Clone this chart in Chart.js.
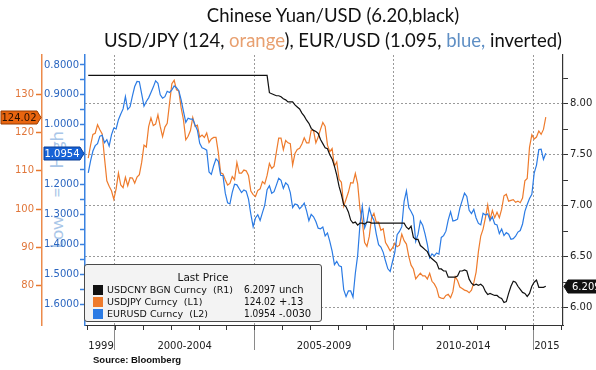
<!DOCTYPE html>
<html>
<head>
<meta charset="utf-8">
<script src="https://cdn.jsdelivr.net/npm/chart.js@4.4.1/dist/chart.umd.min.js"></script>
<style>
  html, body { margin: 0; padding: 0; background: #fff; }
  #wrap { position: relative; width: 596px; height: 370px; overflow: hidden; }
  #chart { position: absolute; left: 0; top: 0; }
  .title { position: absolute; white-space: nowrap; transform: translateX(-50%);
           font-family: Lato, "Liberation Sans", sans-serif; font-size: 18.5px; line-height: 20px; color: #111; }
  #lowhigh { position: absolute; left: 56px; top: 190px; white-space: pre;
             transform: translate(-50%, -50%) rotate(-90deg);
             font-family: Lato, sans-serif; font-size: 18px; color: #a9c6e8; word-spacing: 14px; }
  #source { position: absolute; left: 93px; top: 354px; font-family: "Liberation Sans", sans-serif;
            font-weight: bold; font-size: 9.5px; color: #111; }
  #legend { position: absolute; left: 84px; top: 264px; width: 236px; height: 56px;
            border: 1.5px solid #4a4a4a; border-radius: 3px; background: #f3f3f3;
            font-family: "DejaVu Sans", sans-serif; font-size: 9.5px; color: #111; }
  #legend .lp { position: absolute; left: 0; width: 100%; top: 6px; text-align: center; font-size: 10.5px; }
  #legend .row { position: absolute; left: 0; width: 100%; height: 12px; line-height: 12px; }
  #legend .sw { position: absolute; left: 8px; top: 1px; width: 10px; height: 10px; }
  #legend .nm { position: absolute; left: 22px; white-space: pre; }
  #legend .val { position: absolute; left: 159px; font-family: "DejaVu Sans Condensed", "DejaVu Sans", sans-serif; font-size: 10px; }
  #legend .chg { position: absolute; left: 194px; font-size: 10px; }
</style>
</head>
<body>
<div id="wrap">
  <div id="lowhigh">Low = High</div>
  <canvas id="chart" width="596" height="370"></canvas>
  <div class="title" style="left:333px; top:5px;">Chinese Yuan/USD (6.20,black)</div>
  <div class="title" style="left:333px; top:30px;">USD/JPY (124, <span style="color:#e8a070">orange</span>), EUR/USD (1.095, <span style="color:#5f8fc4">blue,</span> inverted)</div>
  <div id="legend"></div>
  <div id="source">Source: Bloomberg</div>
</div>
<script>
// monthly values, Jan 1999 .. Jun 2015
const startYear = 1999;

const usdcny = [
  8.28, 8.28, 8.28, 8.28, 8.28, 8.28, 8.28, 8.28, 8.28, 8.28, 8.28, 8.28,
  8.28, 8.28, 8.28, 8.28, 8.28, 8.28, 8.28, 8.28, 8.28, 8.28, 8.28, 8.28,
  8.28, 8.28, 8.28, 8.28, 8.28, 8.28, 8.28, 8.28, 8.28, 8.28, 8.28, 8.28,
  8.28, 8.28, 8.28, 8.28, 8.28, 8.28, 8.28, 8.28, 8.28, 8.28, 8.28, 8.28,
  8.28, 8.28, 8.28, 8.28, 8.28, 8.28, 8.28, 8.28, 8.28, 8.28, 8.28, 8.28,
  8.28, 8.28, 8.28, 8.28, 8.28, 8.28, 8.28, 8.28, 8.28, 8.28, 8.28, 8.28,
  8.28, 8.28, 8.28, 8.28, 8.28, 8.28, 8.11, 8.10, 8.09, 8.08, 8.08, 8.07,
  8.05, 8.04, 8.02, 8.02, 8.02, 7.99, 7.97, 7.95, 7.91, 7.88, 7.84, 7.81,
  7.76, 7.74, 7.73, 7.71, 7.65, 7.61, 7.57, 7.56, 7.50, 7.46, 7.39, 7.30,
  7.19, 7.11, 7.01, 6.99, 6.94, 6.86, 6.83, 6.84, 6.81, 6.83, 6.83, 6.82,
  6.84, 6.84, 6.83, 6.83, 6.83, 6.83, 6.83, 6.83, 6.83, 6.83, 6.83, 6.83,
  6.83, 6.83, 6.83, 6.83, 6.83, 6.79, 6.77, 6.80, 6.69, 6.67, 6.67, 6.61,
  6.59, 6.57, 6.55, 6.50, 6.48, 6.46, 6.44, 6.38, 6.38, 6.36, 6.36, 6.30,
  6.30, 6.30, 6.30, 6.31, 6.36, 6.36, 6.37, 6.36, 6.28, 6.24, 6.22, 6.23,
  6.22, 6.23, 6.21, 6.16, 6.13, 6.14, 6.13, 6.12, 6.12, 6.10, 6.09, 6.05,
  6.06, 6.14, 6.21, 6.26, 6.25, 6.21, 6.18, 6.15, 6.14, 6.11, 6.14, 6.21,
  6.25, 6.27, 6.20, 6.20, 6.20, 6.2097
];

const usdjpy = [
  113.3, 116.7, 119.5, 119.8, 122.0, 120.7, 119.6, 113.3, 107.4, 106.0, 104.8, 102.6,
  105.3, 109.4, 106.3, 105.6, 108.3, 106.1, 108.2, 108.1, 106.8, 108.4, 109.0, 112.2,
  116.7, 116.2, 121.5, 123.8, 121.8, 122.2, 124.6, 121.5, 118.9, 121.4, 122.4, 127.6,
  132.7, 133.6, 131.1, 130.8, 126.4, 123.3, 118.1, 119.0, 120.5, 123.9, 121.6, 121.9,
  118.8, 119.3, 118.7, 119.9, 117.4, 118.3, 118.7, 118.7, 114.8, 109.5, 109.2, 107.7,
  106.3, 106.7, 108.5, 107.7, 112.2, 109.4, 109.4, 110.2, 110.0, 108.8, 104.7, 103.8,
  103.3, 104.9, 105.3, 107.2, 106.6, 108.8, 111.9, 110.6, 111.2, 114.9, 118.5, 118.5,
  115.5, 117.9, 117.3, 117.1, 111.5, 114.5, 115.6, 115.9, 117.0, 118.6, 117.3, 117.3,
  120.6, 120.5, 117.3, 118.8, 120.8, 122.6, 121.6, 116.7, 115.0, 115.8, 111.2, 112.3,
  107.8, 107.0, 100.8, 102.6, 104.4, 106.9, 106.8, 109.3, 106.6, 100.1, 96.9, 91.3,
  90.3, 92.9, 97.8, 98.9, 96.6, 96.6, 94.5, 94.9, 91.3, 90.3, 89.1, 89.9,
  91.1, 90.2, 90.6, 93.5, 91.8, 90.9, 87.7, 85.4, 84.4, 81.8, 82.6, 83.3,
  82.6, 82.6, 81.8, 83.3, 81.2, 80.5, 79.4, 77.1, 76.8, 76.7, 77.5, 77.8,
  76.9, 78.5, 82.4, 81.4, 79.7, 79.3, 78.9, 78.7, 78.2, 78.9, 80.8, 83.6,
  89.0, 93.0, 94.8, 97.7, 101.1, 97.3, 99.7, 97.8, 99.2, 97.8, 100.0, 103.5,
  103.9, 102.1, 102.3, 102.5, 101.8, 102.1, 101.7, 102.9, 107.4, 108.0, 116.2, 119.4,
  118.3, 118.8, 120.4, 119.5, 120.8, 124.02
];

const eurusd = [
  1.161, 1.121, 1.088, 1.070, 1.063, 1.038, 1.035, 1.060, 1.050, 1.071, 1.034, 1.011,
  1.014, 0.983, 0.964, 0.947, 0.906, 0.949, 0.940, 0.904, 0.872, 0.855, 0.856, 0.897,
  0.938, 0.922, 0.910, 0.892, 0.874, 0.853, 0.861, 0.900, 0.911, 0.906, 0.888, 0.892,
  0.883, 0.870, 0.876, 0.886, 0.917, 0.955, 0.992, 0.978, 0.981, 0.981, 1.001, 1.018,
  1.062, 1.077, 1.080, 1.085, 1.158, 1.166, 1.137, 1.114, 1.122, 1.169, 1.170, 1.229,
  1.261, 1.265, 1.226, 1.199, 1.201, 1.214, 1.227, 1.218, 1.222, 1.249, 1.299, 1.341,
  1.312, 1.301, 1.320, 1.294, 1.269, 1.217, 1.204, 1.229, 1.224, 1.202, 1.179, 1.186,
  1.213, 1.194, 1.202, 1.227, 1.277, 1.265, 1.268, 1.281, 1.273, 1.262, 1.288, 1.321,
  1.300, 1.308, 1.324, 1.346, 1.348, 1.342, 1.372, 1.362, 1.390, 1.423, 1.468, 1.457,
  1.472, 1.475, 1.552, 1.575, 1.556, 1.556, 1.577, 1.497, 1.437, 1.333, 1.273, 1.345,
  1.324, 1.279, 1.305, 1.319, 1.365, 1.401, 1.409, 1.427, 1.456, 1.482, 1.491, 1.458,
  1.427, 1.368, 1.357, 1.341, 1.256, 1.221, 1.277, 1.290, 1.306, 1.390, 1.366, 1.322,
  1.336, 1.365, 1.400, 1.445, 1.432, 1.439, 1.429, 1.433, 1.377, 1.371, 1.356, 1.318,
  1.291, 1.322, 1.320, 1.316, 1.279, 1.254, 1.229, 1.240, 1.286, 1.297, 1.283, 1.312,
  1.330, 1.335, 1.296, 1.302, 1.298, 1.320, 1.308, 1.332, 1.335, 1.364, 1.349, 1.371,
  1.361, 1.366, 1.383, 1.381, 1.373, 1.359, 1.354, 1.332, 1.290, 1.267, 1.247, 1.233,
  1.162, 1.135, 1.083, 1.082, 1.116, 1.0954
];

// legend / last price box
const tickers = ['USDCNY BGN Curncy', 'USDJPY Curncy', 'EURUSD Curncy'];
const axisTags = ['(R1)', '(L1)', '(L2)'];
const lastPrice = [6.2097, 124.02, 1.0954];
const priceDigits = [4, 2, 4];
const netChange = ['unch', '+.13', '-.0030'];
const seriesColors = ['#111111', '#ee7b2c', '#2b7be4'];

// axis ticks
const periodStarts = [1999, 2000, 2005, 2010, 2015];
const periodLabels = ['1999', '2000-2004', '2005-2009', '2010-2014', '2015'];
const yearTicks = [1999, 2000, 2001, 2002, 2003, 2004, 2005, 2006, 2007, 2008, 2009, 2010, 2011, 2012, 2013, 2014, 2015, 2016];
const cnyTicks = [6.0, 6.25, 6.5, 6.75, 7.0, 7.25, 7.5, 7.75, 8.0, 8.25];
const jpyTicks = [80, 90, 100, 110, 120, 130];
const eurTicks = [0.8, 0.85, 0.9, 0.95, 1.0, 1.05, 1.1, 1.15, 1.2, 1.25, 1.3, 1.35, 1.4, 1.45, 1.5, 1.55, 1.6];

const periodEdges = periodStarts.slice(1);
const periodCenters = periodStarts.map((s, i) => (s + (periodStarts[i + 1] || 2016)) / 2);

function toPoints(arr) {
    return arr.map((v, i) => ({ x: startYear + (i + 0.5) / 12, y: v }));
}

function isMajor(v, step) {
    return Math.abs(v / step - Math.round(v / step)) < 1e-6;
}

// build the legend box
const legend = document.getElementById('legend');
legend.innerHTML = '<div class="lp">Last Price</div>';
tickers.forEach((t, i) => {
    const row = document.createElement('div');
    row.className = 'row';
    row.style.top = (19 + i * 12) + 'px';
    row.innerHTML = `<span class="sw" style="background:${seriesColors[i]}"></span>
                     <span class="nm">${t}  ${axisTags[i]}</span>
                     <span class="val">${lastPrice[i].toFixed(priceDigits[i])}</span>
                     <span class="chg">${netChange[i]}</span>`;
    legend.appendChild(row);
});

const tickFont = { family: 'DejaVu Sans', size: 10 };

// last value tags and small yearly ticks
const tagsPlugin = {
    id: 'tags',
    afterDraw(chart) {
        const ctx = chart.ctx;
        const s = chart.scales;
        const tags = [
            { scale: s.yO, v: lastPrice[1], d: 2, fill: '#e8650f', stroke: '#9a3c00', text: '#2a1000', tip: s.yO.right - 1, dir: 1 },
            { scale: s.yB, v: lastPrice[2], d: 4, fill: '#1662d6', stroke: '#0a3f96', text: '#ffffff', tip: s.yB.right - 1, dir: 1 },
            { scale: s.yR, v: lastPrice[0], d: 4, fill: '#111111', stroke: '#111111', text: '#ffffff', tip: s.yR.left + 1, dir: -1 }
        ];
        ctx.save();
        ctx.font = '10px "DejaVu Sans"';
        ctx.textBaseline = 'middle';
        tags.forEach(t => {
            const y = Math.round(t.scale.getPixelForValue(t.v)) + 0.5;
            const w = 36, h = 13, a = 4;
            const base = t.tip - t.dir * a;
            const far = base - t.dir * w;
            ctx.beginPath();
            ctx.moveTo(t.tip, y);
            ctx.lineTo(base, y - h / 2);
            ctx.lineTo(far, y - h / 2);
            ctx.lineTo(far, y + h / 2);
            ctx.lineTo(base, y + h / 2);
            ctx.closePath();
            ctx.fillStyle = t.fill;
            ctx.fill();
            ctx.strokeStyle = t.stroke;
            ctx.lineWidth = 1;
            ctx.stroke();
            ctx.fillStyle = t.text;
            if (t.dir > 0) {
                ctx.textAlign = 'center';
                ctx.fillText(t.v.toFixed(t.d), (base + far) / 2, y + 0.5);
            } else {
                ctx.textAlign = 'left';
                ctx.fillText(t.v.toFixed(t.d), base + 4, y + 0.5);
            }
        });

        const x = s.x;
        ctx.strokeStyle = '#333';
        ctx.lineWidth = 1;
        yearTicks.forEach(yr => {
            const px = Math.round(x.getPixelForValue(yr)) + 0.5;
            if (px < x.left || px > x.right) return;
            ctx.beginPath();
            ctx.moveTo(px, x.top);
            ctx.lineTo(px, x.top + 5);
            ctx.stroke();
        });
        ctx.restore();
    }
};

const ctx = document.getElementById('chart').getContext('2d');
const chart = new Chart(ctx, {
    type: 'line',
    data: {
        datasets: [
            { label: tickers[0], data: toPoints(usdcny), yAxisID: 'yR', borderColor: seriesColors[0], borderWidth: 1.2 },
            { label: tickers[2], data: toPoints(eurusd), yAxisID: 'yB', borderColor: seriesColors[2], borderWidth: 1.2 },
            { label: tickers[1], data: toPoints(usdjpy), yAxisID: 'yO', borderColor: seriesColors[1], borderWidth: 1.2 }
        ]
    },
    options: {
        responsive: false,
        animation: false,
        devicePixelRatio: 1,
        layout: { padding: { top: 55, left: 0, right: 0, bottom: 0 } },
        elements: { point: { radius: 0 }, line: { tension: 0 } },
        plugins: { legend: { display: false }, tooltip: { enabled: false } },
        scales: {
            x: {
                type: 'linear',
                position: 'bottom',
                min: 1998.925,
                max: 2016.076,
                afterBuildTicks: sc => { sc.ticks = periodEdges.concat(periodCenters).map(v => ({ value: v })); },
                afterFit: sc => { sc.height = 45; },
                border: { color: '#333', width: 1, dash: [2, 2] },
                grid: {
                    color: c => (c.tick && periodEdges.includes(c.tick.value)) ? '#9a9a9a' : 'rgba(0,0,0,0)',
                    tickColor: c => (c.tick && periodEdges.includes(c.tick.value)) ? '#8a8a8a' : 'rgba(0,0,0,0)',
                    tickLength: 25,
                    lineWidth: 1
                },
                ticks: {
                    autoSkip: false,
                    maxRotation: 0,
                    padding: -10,
                    color: '#222',
                    font: tickFont,
                    callback: v => {
                        const k = periodCenters.indexOf(v);
                        return k >= 0 ? periodLabels[k] : '';
                    }
                }
            },
            yR: {
                position: 'right',
                min: 5.83,
                max: 8.48,
                afterBuildTicks: sc => { sc.ticks = cnyTicks.map(v => ({ value: v })); },
                afterFit: sc => { sc.width = 33; },
                border: { color: '#333', width: 1.2, dash: [2, 2] },
                grid: {
                    color: c => (c.tick && isMajor(c.tick.value, 0.5)) ? '#9a9a9a' : 'rgba(0,0,0,0)',
                    tickColor: '#333',
                    tickLength: 5
                },
                ticks: {
                    autoSkip: false,
                    padding: 2,
                    color: '#222',
                    font: tickFont,
                    callback: v => isMajor(v, 0.5) ? v.toFixed(2) : ''
                }
            },
            yB: {
                position: 'left',
                weight: 0,
                reverse: true,
                min: 0.7666,
                max: 1.670,
                afterBuildTicks: sc => { sc.ticks = eurTicks.map(v => ({ value: v })); },
                afterFit: sc => { sc.width = 43; },
                border: { color: '#3a82e0', width: 1.5 },
                grid: { drawOnChartArea: false, tickColor: '#3a82e0', tickWidth: 1.5, tickLength: 5 },
                ticks: {
                    autoSkip: false,
                    padding: 1,
                    color: '#2b66c0',
                    font: tickFont,
                    callback: v => isMajor(v, 0.1) ? v.toFixed(4) : ''
                }
            },
            yO: {
                position: 'left',
                weight: 1,
                min: 69.8,
                max: 140.2,
                afterBuildTicks: sc => { sc.ticks = jpyTicks.map(v => ({ value: v })); },
                afterFit: sc => { sc.width = 42; },
                border: { color: '#ec8a4a', width: 1.5 },
                grid: { drawOnChartArea: false, tickColor: '#e8782e', tickWidth: 1.5, tickLength: 6 },
                ticks: {
                    autoSkip: false,
                    padding: 2,
                    color: '#e0763a',
                    font: tickFont,
                    callback: v => String(v)
                }
            }
        }
    },
    plugins: [tagsPlugin]
});
</script>
</body>
</html>
